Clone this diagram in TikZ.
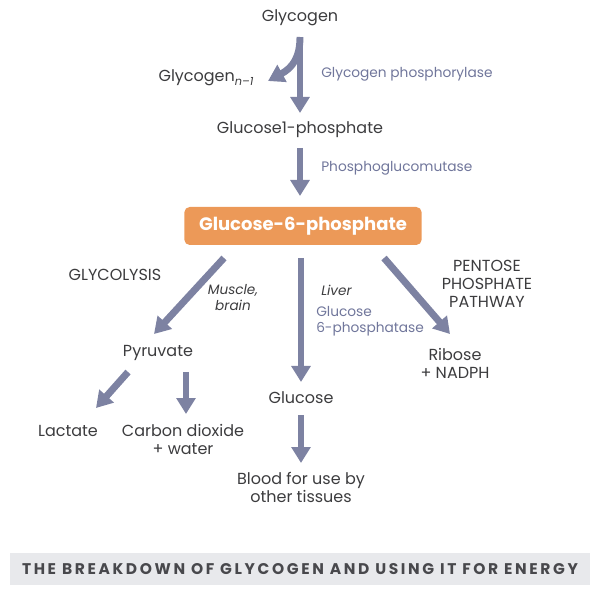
\documentclass[tikz,border=0pt]{standalone}
\usepackage{fontspec}
\setmainfont{Poppins}
\usetikzlibrary{arrows.meta}
\definecolor{txt}{RGB}{60,60,62}
\definecolor{enz}{RGB}{112,118,155}
\definecolor{arr}{RGB}{125,130,162}
\definecolor{org}{RGB}{236,153,88}
\definecolor{band}{RGB}{232,233,236}
\definecolor{bandtxt}{RGB}{72,72,76}
\begin{document}
\begin{tikzpicture}[x=0.75pt,y=-0.75pt,
  lbl/.style={text=txt,font=\fontsize{12pt}{13.5pt}\selectfont,align=center,inner sep=0pt},
  enzl/.style={text=enz,font=\fontsize{10.3pt}{12pt}\selectfont,align=left,inner sep=0pt,anchor=west},
  note/.style={text=txt,font=\fontsize{10.2pt}{12pt}\selectfont\itshape,align=center,inner sep=0pt},
  flow/.style={draw=arr,line width=5.2pt,-{Triangle[length=12pt,width=14pt]}},
  hub/.style={fill=org,rounded corners=4pt,text=white,font=\fontsize{13.5pt}{16pt}\selectfont\bfseries,minimum width=178pt,minimum height=28.5pt,inner sep=0pt}]
\useasboundingbox (0,0) rectangle (600,595);
% nodes
\node[lbl] (glycogen) at (300,18) {Glycogen};
\node[lbl] (glycogenn) at (206,78) {Glycogen\raisebox{-2.5pt}{\fontsize{8.5pt}{10pt}\selectfont\itshape n--1}};
\node[enzl] (gp) at (321,74) {Glycogen phosphorylase};
\node[lbl] (g1p) at (300,130) {Glucose1-phosphate};
\node[enzl] (pgm) at (321,168) {Phosphoglucomutase};
\node[hub] (g6p) at (303,226) {Glucose-6-phosphate};
\node[lbl] (glyco) at (115,275) {GLYCOLYSIS};
\node[note] (muscle) at (233,298) {Muscle,\\brain};
\node[note,anchor=west] (liver) at (321,290) {Liver};
\node[enzl] (g6pase) at (316,321) {Glucose\\6-phosphatase};
\node[lbl] (ppp) at (487,284) {PENTOSE\\PHOSPHATE\\PATHWAY};
\node[lbl] (pyr) at (158,353) {Pyruvate};
\node[lbl] (rib) at (455,363) {Ribose\\+ NADPH};
\node[lbl] (lac) at (68,431) {Lactate};
\node[lbl] (co2) at (183,439) {Carbon dioxide\\+ water};
\node[lbl] (glc) at (301,398) {Glucose};
\node[lbl] (blood) at (301,487) {Blood for use by\\other tissues};
% connector anchors
\coordinate (a1s) at (300,37);
\coordinate (a1e) at (300,113);
\coordinate (a1c) at (268,81);
\coordinate (a2s) at (300,148);
\coordinate (a2e) at (300,196);
\coordinate (l1s) at (224,258);
\coordinate (l1e) at (154,334);
\coordinate (m1s) at (301,258);
\coordinate (m1e) at (301,382);
\coordinate (r1s) at (384,258);
\coordinate (r1e) at (450,334);
\coordinate (p1s) at (128,372);
\coordinate (p1e) at (96,408);
\coordinate (p2s) at (186,372);
\coordinate (p2e) at (186,414);
\coordinate (g1s) at (301,415);
\coordinate (g1e) at (301,463);
% connectors
\draw[flow] (a1s) -- (a1e);
\draw[flow] (a1s) .. controls (300,58) and (292,68) .. (a1c);
\draw[flow] (a2s) -- (a2e);
\draw[flow] (l1s) -- (l1e);
\draw[flow] (m1s) -- (m1e);
\draw[flow] (r1s) -- (r1e);
\draw[flow] (p1s) -- (p1e);
\draw[flow] (p2s) -- (p2e);
\draw[flow] (g1s) -- (g1e);
% caption band
\node[fill=band,minimum width=435pt,minimum height=24.5pt,inner sep=0pt,text=bandtxt,
  font=\fontsize{11.6pt}{12pt}\selectfont\bfseries\addfontfeatures{LetterSpace=17}] (cap) at (300,569)
  {THE BREAKDOWN OF GLYCOGEN AND USING IT FOR ENERGY};
\end{tikzpicture}
\end{document}
